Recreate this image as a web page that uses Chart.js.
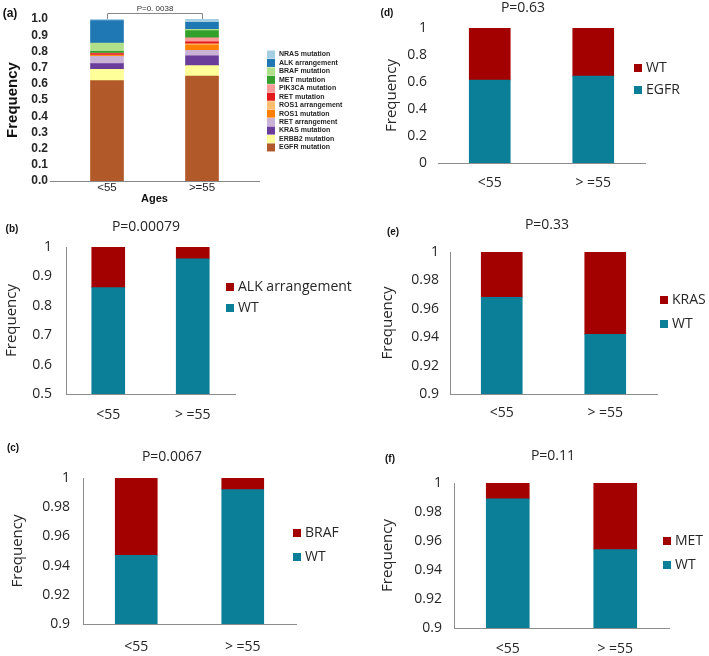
<!DOCTYPE html>
<html>
<head>
<meta charset="utf-8">
<script src="https://cdn.jsdelivr.net/npm/chart.js@4.4.1/dist/chart.umd.min.js"></script>
<style>
  html, body { margin: 0; padding: 0; background: #fff; }
  #figure { position: relative; width: 709px; height: 656px; overflow: hidden; background: #fff; }
  #figure canvas { position: absolute; }
</style>
</head>
<body>
<div id="figure">
  <canvas id="chartA"></canvas>
  <canvas id="chartD"></canvas>
  <canvas id="chartB"></canvas>
  <canvas id="chartE"></canvas>
  <canvas id="chartC"></canvas>
  <canvas id="chartF"></canvas>
</div>
<script>
// ===== DATA =====
const ageGroups = ["<55", ">=55"];
const ageGroupsExcel = ["<55", "> =55"];

// (a) mutation spectrum, bottom -> top of the stack
const mutationTypes = [
    "EGFR mutation", "ERBB2 mutation", "KRAS mutation", "RET arrangement",
    "ROS1 mutation", "ROS1 arrangement", "RET mutation", "PIK3CA mutation",
    "MET mutation", "BRAF mutation", "ALK arrangement", "NRAS mutation"
];
const freqUnder55 = [0.62, 0.07, 0.035, 0.045, 0.004, 0.003, 0.01, 0.003, 0.01, 0.052, 0.138, 0.01];
const freqOver55 = [0.648, 0.064, 0.06, 0.035, 0.032, 0.008, 0.012, 0.024, 0.046, 0.008, 0.043, 0.02];
const mutationColors = [
    "#b15928", "#ffff99", "#6a3d9a", "#cab2d6", "#ff7f00", "#fdbf6f",
    "#e31a1c", "#fb9a99", "#33a02c", "#b2df8a", "#1f78b4", "#a6cee3"
];

// (b)-(f) one gene against the rest
const egfrMut = [0.615, 0.644];
const egfrWT = [0.385, 0.356];
const alkWT = [0.862, 0.96];
const alkMut = [0.138, 0.04];
const brafWT = [0.947, 0.992];
const brafMut = [0.053, 0.008];
const krasWT = [0.968, 0.942];
const krasMut = [0.032, 0.058];
const metWT = [0.989, 0.954];
const metMut = [0.011, 0.046];

// ===== STYLE =====
const TEAL = "#0b7f98";
const DARK_RED = "#a30000";
const AXIS_GRAY = "#8c8c8c";
const TEXT_DARK = "#262626";
const XL_FONT = "'Open Sans', 'Noto Sans', sans-serif";
const GG_FONT = "'Liberation Sans', Arial, sans-serif";

// ===== PLUGINS =====
// free text (panel tag, p value)
const panelTextPlugin = {
    id: "panelText",
    afterDraw(chart, args, opts) {
        if (!opts.items) return;
        const ctx = chart.ctx;
        ctx.save();
        ctx.textBaseline = "middle";
        opts.items.forEach((t) => {
            ctx.font = t.font;
            ctx.fillStyle = t.color;
            ctx.textAlign = t.align;
            ctx.fillText(t.text, t.x, t.y);
        });
        ctx.restore();
    },
};

// legend column on the right, top item = last dataset
const sideLegendPlugin = {
    id: "sideLegend",
    afterDraw(chart, args, opts) {
        if (opts.x === undefined) return;
        const ctx = chart.ctx;
        const sets = chart.data.datasets.slice().reverse();
        ctx.save();
        ctx.font = opts.font;
        ctx.textBaseline = "middle";
        ctx.textAlign = "left";
        sets.forEach((ds, i) => {
            const cy = opts.y + i * opts.step;
            ctx.fillStyle = ds.backgroundColor;
            ctx.fillRect(opts.x, cy - opts.box / 2, opts.box, opts.box);
            ctx.fillStyle = opts.color;
            ctx.fillText(ds.label, opts.x + opts.box + opts.gap, cy);
        });
        ctx.restore();
    },
};

// significance bracket over the two bars of (a)
const bracketPlugin = {
    id: "pBracket",
    afterDatasetsDraw(chart, args, opts) {
        if (!opts.text) return;
        const ctx = chart.ctx;
        const x1 = Math.round(chart.scales.x.getPixelForValue(1)) + 0.5;
        const x2 = Math.round(chart.scales.x.getPixelForValue(2)) + 0.5;
        const yTop = chart.scales.y.getPixelForValue(1);
        const yLine = Math.round(yTop - opts.rise) + 0.5;
        ctx.save();
        ctx.strokeStyle = opts.lineColor;
        ctx.lineWidth = 1;
        ctx.beginPath();
        ctx.moveTo(x1, yTop);
        ctx.lineTo(x1, yLine);
        ctx.lineTo(x2, yLine);
        ctx.lineTo(x2, yTop);
        ctx.stroke();
        ctx.font = opts.font;
        ctx.fillStyle = opts.color;
        ctx.textAlign = "center";
        ctx.textBaseline = "middle";
        ctx.fillText(opts.text, (x1 + x2) / 2, yLine - opts.gap);
        ctx.restore();
    },
};

Chart.register(panelTextPlugin, sideLegendPlugin, bracketPlugin);

function placeCanvas(id, box) {
    const canvas = document.getElementById(id);
    canvas.width = box.w;
    canvas.height = box.h;
    canvas.style.left = box.x + "px";
    canvas.style.top = box.y + "px";
    return canvas;
}

// Excel-style number: 1, 0.9, 0.98
function plainNumber(v) {
    return String(parseFloat(v.toFixed(3)));
}

// ===== PANEL (a) =====
function makeSpectrumChart() {
    const box = { x: 0, y: 0, w: 360, h: 210 };
    const area = { left: 50, right: 259, top: 19, bottom: 181 };
    const canvas = placeCanvas("chartA", box);

    const datasets = mutationTypes.map((name, k) => ({
        label: name,
        data: [
            { x: 1, y: freqUnder55[k] },
            { x: 2, y: freqOver55[k] },
        ],
        backgroundColor: mutationColors[k],
        borderWidth: 0,
        barThickness: 33,
    }));

    return new Chart(canvas, {
        type: "bar",
        data: { datasets },
        options: {
            responsive: false,
            animation: false,
            events: [],
            layout: {
                autoPadding: false,
                padding: { left: 0, top: area.top, right: box.w - area.right, bottom: 0 },
            },
            plugins: {
                legend: { display: false },
                tooltip: { enabled: false },
                panelText: {
                    items: [{ text: "(a)", x: 10, y: 14, font: "bold 12px " + GG_FONT, color: "#111", align: "center" }],
                },
                sideLegend: {
                    x: 267, y: 54.5, step: 8.45, box: 8, gap: 4,
                    font: "bold 7px " + GG_FONT, color: TEXT_DARK,
                },
                pBracket: {
                    text: "P=0. 0038", rise: 6, gap: 5,
                    font: "8px " + GG_FONT, color: "#333", lineColor: "#888",
                },
            },
            scales: {
                x: {
                    type: "linear",
                    min: 0.4,
                    max: 2.6,
                    offset: false,
                    stacked: true,
                    afterBuildTicks: (s) => { s.ticks = ageGroups.map((g, i) => ({ value: i + 1 })); },
                    afterFit: (s) => { s.height = box.h - area.bottom; },
                    grid: { display: false, drawTicks: false, offset: false },
                    border: { display: true, color: "#888", width: 1 },
                    ticks: {
                        callback: (v, i) => ageGroups[i],
                        font: { family: GG_FONT, size: 11.5 },
                        color: TEXT_DARK,
                        padding: 0,
                        maxRotation: 0,
                        autoSkip: false,
                    },
                    title: {
                        display: true,
                        text: "Ages",
                        font: { family: GG_FONT, size: 11, weight: "bold" },
                        color: "#111",
                        padding: { top: 0, bottom: 4.4 },
                    },
                },
                y: {
                    stacked: true,
                    min: 0,
                    max: 1,
                    afterFit: (s) => { s.width = area.left; },
                    grid: { display: false, drawTicks: false },
                    border: { display: false },
                    ticks: {
                        stepSize: 0.1,
                        autoSkip: false,
                        callback: (v) => v.toFixed(1),
                        font: { family: GG_FONT, size: 12, weight: "bold" },
                        color: TEXT_DARK,
                        padding: 2,
                    },
                    title: {
                        display: true,
                        text: "Frequency",
                        font: { family: GG_FONT, size: 15, weight: "bold" },
                        color: "#111",
                        padding: { top: 4, bottom: 0 },
                    },
                },
            },
        },
    });
}

// ===== PANELS (b)-(f) =====
function makeGeneChart(id, spec, series) {
    const box = spec.box;
    const canvas = placeCanvas(id, box);
    const a = {
        left: spec.area.left - box.x,
        right: spec.area.right - box.x,
        top: spec.area.top - box.y,
        bottom: spec.area.bottom - box.y,
    };
    const tickFont = { family: XL_FONT, size: 14 };

    return new Chart(canvas, {
        type: "bar",
        data: {
            labels: ageGroupsExcel,
            datasets: series.map((s) => ({
                label: s.label,
                data: s.data,
                backgroundColor: s.color,
                borderWidth: 0,
                barThickness: spec.barWidth,
            })),
        },
        options: {
            responsive: false,
            animation: false,
            events: [],
            layout: {
                autoPadding: false,
                padding: { left: 0, top: a.top, right: box.w - a.right, bottom: 0 },
            },
            plugins: {
                legend: { display: false },
                tooltip: { enabled: false },
                panelText: {
                    items: [
                        { text: spec.tag, x: spec.tagX - box.x, y: spec.tagY - box.y, font: "bold 10px " + GG_FONT, color: "#111", align: "center" },
                        { text: spec.pText, x: spec.pX - box.x, y: spec.pY - box.y, font: "14px " + XL_FONT, color: TEXT_DARK, align: "center" },
                    ],
                },
                sideLegend: {
                    x: spec.legendX - box.x, y: spec.legendY - box.y, step: spec.legendStep,
                    box: 8, gap: 4, font: "14px " + XL_FONT, color: TEXT_DARK,
                },
            },
            scales: {
                x: {
                    stacked: true,
                    afterFit: (s) => { s.height = box.h - a.bottom; },
                    grid: { display: false, drawTicks: false },
                    border: { display: true, color: AXIS_GRAY, width: 1 },
                    ticks: {
                        font: tickFont,
                        color: TEXT_DARK,
                        padding: spec.xLabelY - spec.area.bottom - 8.4,
                        maxRotation: 0,
                        autoSkip: false,
                    },
                },
                y: {
                    stacked: true,
                    min: spec.yMin,
                    max: 1,
                    afterFit: (s) => { s.width = a.left; },
                    grid: { display: false, drawTicks: false },
                    border: { display: spec.yLine, color: AXIS_GRAY, width: 1 },
                    ticks: {
                        stepSize: spec.step,
                        autoSkip: false,
                        callback: plainNumber,
                        font: tickFont,
                        color: TEXT_DARK,
                        padding: spec.area.left - spec.tickRight,
                    },
                    title: {
                        display: true,
                        text: "Frequency",
                        font: { family: XL_FONT, size: 15 },
                        color: TEXT_DARK,
                        padding: { top: spec.yTitleX - box.x - 9, bottom: 0 },
                    },
                },
            },
        },
    });
}

// ===== START =====
makeSpectrumChart();

makeGeneChart("chartD", {
    box: { x: 360, y: 0, w: 349, h: 200 },
    area: { left: 438, right: 645, top: 28, bottom: 163 },
    yMin: 0, step: 0.2, yLine: false, barWidth: 41,
    tickRight: 427, xLabelY: 183, yTitleX: 392,
    tag: "(d)", tagX: 387, tagY: 13, pText: "P=0.63", pX: 523, pY: 8,
    legendX: 634, legendY: 68, legendStep: 22,
}, [
    { label: "EGFR", data: egfrMut, color: TEAL },
    { label: "WT", data: egfrWT, color: DARK_RED },
]);

makeGeneChart("chartB", {
    box: { x: 0, y: 200, w: 360, h: 220 },
    area: { left: 66, right: 235, top: 247, bottom: 394 },
    yMin: 0.5, step: 0.1, yLine: true, barWidth: 33,
    tickRight: 52, xLabelY: 415, yTitleX: 12,
    tag: "(b)", tagX: 12, tagY: 229, pText: "P=0.00079", pX: 146, pY: 227,
    legendX: 226, legendY: 287, legendStep: 21,
}, [
    { label: "WT", data: alkWT, color: TEAL },
    { label: "ALK arrangement", data: alkMut, color: DARK_RED },
]);

makeGeneChart("chartE", {
    box: { x: 360, y: 200, w: 349, h: 220 },
    area: { left: 450, right: 657, top: 252, bottom: 394 },
    yMin: 0.9, step: 0.02, yLine: true, barWidth: 41,
    tickRight: 439, xLabelY: 413, yTitleX: 388,
    tag: "(e)", tagX: 393, tagY: 232, pText: "P=0.33", pX: 547, pY: 225,
    legendX: 660, legendY: 300, legendStep: 24,
}, [
    { label: "WT", data: krasWT, color: TEAL },
    { label: "KRAS", data: krasMut, color: DARK_RED },
]);

makeGeneChart("chartC", {
    box: { x: 0, y: 420, w: 360, h: 236 },
    area: { left: 83, right: 296, top: 478, bottom: 624 },
    yMin: 0.9, step: 0.02, yLine: true, barWidth: 42,
    tickRight: 70, xLabelY: 647, yTitleX: 18,
    tag: "(c)", tagX: 13, tagY: 448, pText: "P=0.0067", pX: 172, pY: 457,
    legendX: 293, legendY: 533, legendStep: 24,
}, [
    { label: "WT", data: brafWT, color: TEAL },
    { label: "BRAF", data: brafMut, color: DARK_RED },
]);

makeGeneChart("chartF", {
    box: { x: 360, y: 420, w: 349, h: 236 },
    area: { left: 454, right: 669, top: 483, bottom: 628 },
    yMin: 0.9, step: 0.02, yLine: true, barWidth: 43,
    tickRight: 442, xLabelY: 649, yTitleX: 388,
    tag: "(f)", tagX: 390, tagY: 459, pText: "P=0.11", pX: 553, pY: 456,
    legendX: 663, legendY: 541, legendStep: 24,
}, [
    { label: "WT", data: metWT, color: TEAL },
    { label: "MET", data: metMut, color: DARK_RED },
]);
</script>
</body>
</html>
